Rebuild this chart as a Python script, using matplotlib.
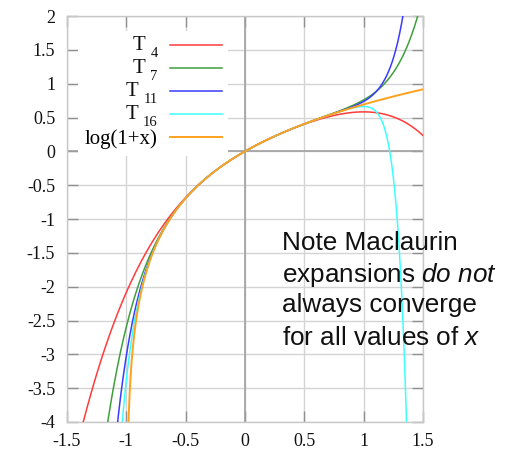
import numpy as np
import matplotlib
matplotlib.use("Agg")
import matplotlib.pyplot as plt
from matplotlib.font_manager import FontProperties

# ---- data ----
degrees = [4, 7, 11, 16]
series_names = ["T", "T", "T", "T"]
series_subs = ["4", "7", "11", "16"]
func_label = "log(1+x)"
series_colors = ["#ff3b3b", "#3f9f3f", "#3b3bff", "#3bffff"]
func_color = "#ffa11f"
x_ticks = [-1.5, -1, -0.5, 0, 0.5, 1, 1.5]
y_ticks = [-4, -3.5, -3, -2.5, -2, -1.5, -1, -0.5, 0, 0.5, 1, 1.5, 2]
note_lines = ["Note Maclaurin",
              r"expansions $\mathit{do\ not}$",
              "always converge",
              r"for all values of $\mathit{x}$"]

plt.rcParams["axes.unicode_minus"] = False
plt.rcParams["mathtext.fontset"] = "custom"
plt.rcParams["mathtext.rm"] = "Liberation Sans"
plt.rcParams["mathtext.it"] = "Liberation Sans:italic"

fig = plt.figure(figsize=(5.15, 4.58), dpi=100)
ax = fig.add_axes([67/515, 36/458, 356/515, 406/458])

xs = np.linspace(-1.5, 1.5, 3001)

def taylor_log1p(x, n):
    k = np.arange(1, n + 1)
    return np.sum(((-1.0) ** (k + 1))[:, None] * x[None, :] ** k[:, None] / k[:, None], axis=0)

handles, labels = [], []
for n, col in zip(degrees, series_colors):
    h, = ax.plot(xs, taylor_log1p(xs, n), color=col, lw=1.1, zorder=3)
    handles.append(h)
    labels.append(" ")

xl = xs[xs > -1 + 1e-9]
h, = ax.plot(xl, np.log1p(xl), color=func_color, lw=1.4, zorder=3)
handles.append(h)
labels.append(func_label)

ax.set_xlim(-1.5, 1.5)
ax.set_ylim(-4, 2)
ax.set_xticks(x_ticks)
ax.set_yticks(y_ticks)
ax.set_xticklabels([f"{v:g}" for v in x_ticks])
ax.set_yticklabels([f"{v:g}" for v in y_ticks])

ax.grid(True, color="#d4d4d4", lw=1.0, zorder=0)
ax.set_axisbelow(True)
ax.axhline(0, color="#a0a0a0", lw=1.2, zorder=1)
ax.axvline(0, color="#a0a0a0", lw=1.2, zorder=1)
for s in ax.spines.values():
    s.set_color("#c8c8c8")
    s.set_linewidth(1.0)

tick_font = FontProperties(family="Liberation Serif", size=13)
ax.tick_params(axis="both", direction="in", length=8, width=1.0, color="#909090",
               top=True, right=True)
ax.tick_params(axis="x", pad=8)
ax.tick_params(axis="y", pad=8.5)
for t in ax.get_xticklabels() + ax.get_yticklabels():
    t.set_fontproperties(tick_font)
    t.set_color("#111111")

leg_font = FontProperties(family="Liberation Serif", size=15)
leg = ax.legend(handles, labels, loc="upper right", bbox_to_anchor=(228/515, 1 - 31/458),
                bbox_transform=fig.transFigure, markerfirst=False, prop=leg_font,
                handlelength=2.5, handletextpad=0.58, labelspacing=0.17,
                borderpad=0.3, borderaxespad=0, fancybox=False,
                facecolor="white", edgecolor="none", framealpha=1)
leg.set_zorder(5)

# "T" with a lowered subscript, placed to the left of each legend line sample
for lh, name, sub in zip(leg.legend_handles[:len(series_subs)], series_names, series_subs):
    s = ax.annotate(sub, xy=(0, 0.5), xycoords=lh, xytext=(-12, -12),
                    textcoords="offset pixels", ha="right", va="baseline",
                    family="Liberation Serif", fontsize=10.5, color="#111111",
                    zorder=6, annotation_clip=False)
    ax.annotate(name, xy=(0, 0.5), xycoords=(s, lh), xytext=(-5, -5),
                textcoords="offset pixels", ha="right", va="baseline",
                family="Liberation Serif", fontsize=15, color="#111111",
                zorder=6, annotation_clip=False)

base_px = [250, 282, 312, 345]
for line, by in zip(note_lines, base_px):
    fig.text(282/515, 1 - by/458, line, fontsize=18.8, family="Liberation Sans",
             va="baseline", ha="left", color="#111111", math_fontfamily="custom")

fig.savefig("out.png", dpi=100)
